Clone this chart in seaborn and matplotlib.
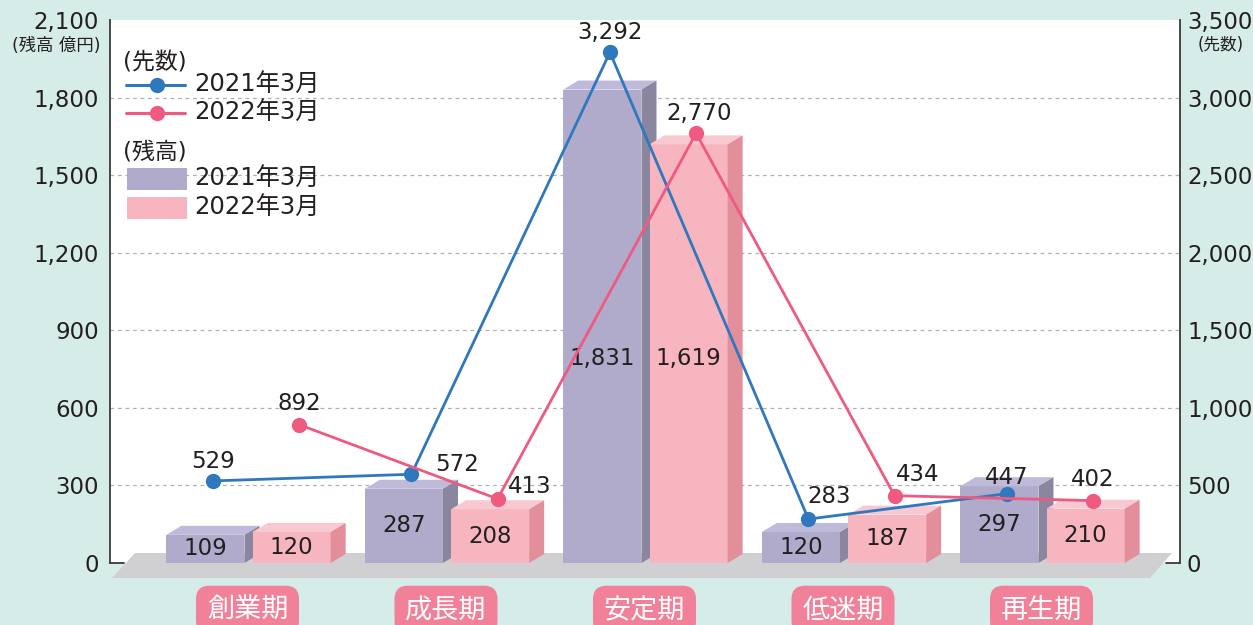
import numpy as np
import pandas as pd
import matplotlib
matplotlib.use("Agg")
import matplotlib.pyplot as plt
from matplotlib.patches import Polygon, Rectangle
from matplotlib.lines import Line2D
import matplotlib.transforms as mtransforms
import seaborn as sns

# ---------------- data ----------------
categories = ["創業期", "成長期", "安定期", "低迷期", "再生期"]
series_names = ["2021年3月", "2022年3月"]
balance_2021 = [109, 287, 1831, 120, 297]     # 残高 (億円)
balance_2022 = [120, 208, 1619, 187, 210]
count_2021 = [529, 572, 3292, 283, 447]       # 先数
count_2022 = [892, 413, 2770, 434, 402]
left_ticks = [0, 300, 600, 900, 1200, 1500, 1800, 2100]
right_ticks = [0, 500, 1000, 1500, 2000, 2500, 3000, 3500]

# ---------------- style ----------------
sns.set_theme(style="white")
plt.rcParams['font.family'] = ['DejaVu Sans', 'Noto Sans CJK JP']
TXT = "#231f20"
BG = "#d6ece9"
front = ["#b0abcb", "#f7b5c0"]
topc = ["#c0bada", "#f9c9d1"]
sidec = ["#8a869f", "#e28e9b"]
linec = ["#2f78be", "#ee5a80"]
FLOOR = "#d0d0d2"
CATBOX = "#f08199"

W, H = 1253, 625
fig = plt.figure(figsize=(W / 100, H / 100), dpi=100, facecolor=BG)
X0, X1, YT, YB = 110, 1180, 20, 563
ax = fig.add_axes([X0 / W, 1 - YB / H, (X1 - X0) / W, (YB - YT) / H])
ax.set_facecolor("white")

df = pd.DataFrame({
    "category": categories * 2,
    "series": [series_names[0]] * len(categories) + [series_names[1]] * len(categories),
    "value": balance_2021 + balance_2022,
})

sns.barplot(data=df, x="category", y="value", hue="series", order=categories,
            hue_order=series_names, palette=front, saturation=1, width=0.868, gap=0.093,
            errorbar=None, legend=False, linewidth=0, ax=ax)

ax.set_ylim(0, 2100)
spacing = 198.5
c0 = 248.5
ax.set_xlim(-(c0 - X0) / spacing, (X1 - c0) / spacing)

# depth of the pseudo-3D bars
dx = 15 / spacing
dy = 9 * 2100 / (YB - YT)

bars = [p for p in ax.patches if isinstance(p, Rectangle)]
n = len(categories)
groups = [bars[:n], bars[n:2 * n]]
point_x = []
for k, grp in enumerate(groups):
    xs = []
    for p in grp:
        x0, w, h = p.get_x(), p.get_width(), p.get_height()
        x1 = x0 + w
        p.set_zorder(2 + k)
        ax.add_patch(Polygon([(x0, h), (x0 + dx, h + dy), (x1 + dx, h + dy), (x1, h)],
                             closed=True, fc=topc[k], ec="none", zorder=2 + k))
        ax.add_patch(Polygon([(x1, 0), (x1 + dx, dy), (x1 + dx, h + dy), (x1, h)],
                             closed=True, fc=sidec[k], ec="none", zorder=2 + k))
        ax.text(x0 + w / 2, min(h / 2, 790), f"{int(round(h)):,}", ha="center", va="center",
                fontsize=16.5, color=TXT, zorder=6)
        xs.append(x0 + w / 2 + dx / 2)
    point_x.append(xs)

# floor
ax.add_patch(Polygon([(2 / 1070, -15 / 543), (25 / 1070, 10 / 543), (1062 / 1070, 10 / 543),
                      (1040 / 1070, -15 / 543)], closed=True, transform=ax.transAxes,
                     fc=FLOOR, ec="none", zorder=1, clip_on=False))

# grid lines
for t in left_ticks[1:-1]:
    ax.axhline(t, color="#b0b0b0", lw=0.9, ls=(0, (3, 3)), zorder=0.5)

ax.set_yticks(left_ticks)
ax.set_yticklabels([f"{t:,}" for t in left_ticks])
ax.tick_params(axis="y", length=0, pad=8, labelsize=16.5, labelcolor=TXT)
ax.tick_params(axis="x", length=0, labelbottom=False)
ax.set_xlabel("")
ax.set_ylabel("")
for s in ["top", "bottom", "right"]:
    ax.spines[s].set_visible(False)
ax.spines["left"].set_color("#3a3a3a")
ax.spines["left"].set_linewidth(1.3)
ax.plot([0, 14 / 1070], [0, 0], transform=ax.transAxes, color="#3a3a3a", lw=1.3,
        clip_on=False, zorder=7)

# ---------------- lines (right axis) ----------------
ax2 = ax.twinx()
ax2.set_ylim(0, 3500)
counts = [count_2021, count_2022]
label_off = [[(0, 19), (46, 10), (0, 20), (21, 23), (0, 16)],
             [(0, 21), (32, 12), (3, 20), (23, 21), (0, 21)]]
for k in range(2):
    sns.lineplot(x=point_x[k], y=counts[k], ax=ax2, color=linec[k], lw=2.0, marker="o",
                 markersize=11, markeredgewidth=0, sort=False, legend=False)
    for xv, yv, off in zip(point_x[k], counts[k], label_off[k]):
        ax2.annotate(f"{yv:,}", (xv, yv), xytext=off, textcoords="offset pixels",
                     ha="center", va="center", fontsize=16.5, color=TXT, zorder=8)
ax2.set_yticks(right_ticks)
ax2.set_yticklabels([f"{t:,}" for t in right_ticks])
ax2.tick_params(axis="y", length=0, pad=5, labelsize=16.5, labelcolor=TXT)
ax2.set_ylabel("")
for s in ["top", "bottom", "left"]:
    ax2.spines[s].set_visible(False)
ax2.spines["right"].set_color("#3a3a3a")
ax2.spines["right"].set_linewidth(1.3)
ax2.plot([1 - 14 / 1070, 1], [0, 0], transform=ax2.transAxes, color="#3a3a3a", lw=1.3,
         clip_on=False)
ax2.set_xlim(ax.get_xlim())

# unit labels
fig.text(101 / W, 1 - 46 / H, "(残高 億円)", ha="right", va="center", fontsize=12.5,
         color=TXT)
fig.text(1198 / W, 1 - 45 / H, "(先数)", ha="left", va="center", fontsize=12,
         color=TXT)

# category labels
trans = mtransforms.blended_transform_factory(ax.transData, ax.transAxes)
for i, c in enumerate(categories):
    ax.text(i - 1 / spacing, (YB - 610) / (YB - YT), c, transform=trans, ha="center",
            va="center", fontsize=19.5, color="white", family=["Noto Sans CJK JP"], zorder=9,
            bbox=dict(boxstyle="round,pad=0.4,rounding_size=0.5", fc=CATBOX, ec="none"))

# ---------------- legend (manual) ----------------
def fx(x):
    return x / W

def fy(y):
    return 1 - y / H

fig.text(fx(123), fy(63), "(先数)", ha="left", va="center", fontsize=16.5, color=TXT)
fig.text(fx(123), fy(152), "(残高)", ha="left", va="center", fontsize=16.5, color=TXT)
for k, yy in enumerate([85, 113]):
    fig.add_artist(Line2D([fx(126), fx(185)], [fy(yy), fy(yy)], color=linec[k], lw=2.2))
    fig.add_artist(Line2D([fx(157)], [fy(yy)], color=linec[k], marker="o", markersize=11,
                          markeredgewidth=0))
    fig.text(fx(194), fy(yy), series_names[k], ha="left", va="center", fontsize=17.5, color=TXT)
for k, yy in enumerate([168, 197]):
    fig.add_artist(Rectangle((fx(127), fy(yy + 22)), 60 / W, 22 / H, fc=front[k], ec="none",
                             transform=fig.transFigure))
    fig.text(fx(194), fy(yy + 11), series_names[k], ha="left", va="center", fontsize=17.5,
             color=TXT)

fig.savefig("out.png", dpi=100, facecolor=BG)
